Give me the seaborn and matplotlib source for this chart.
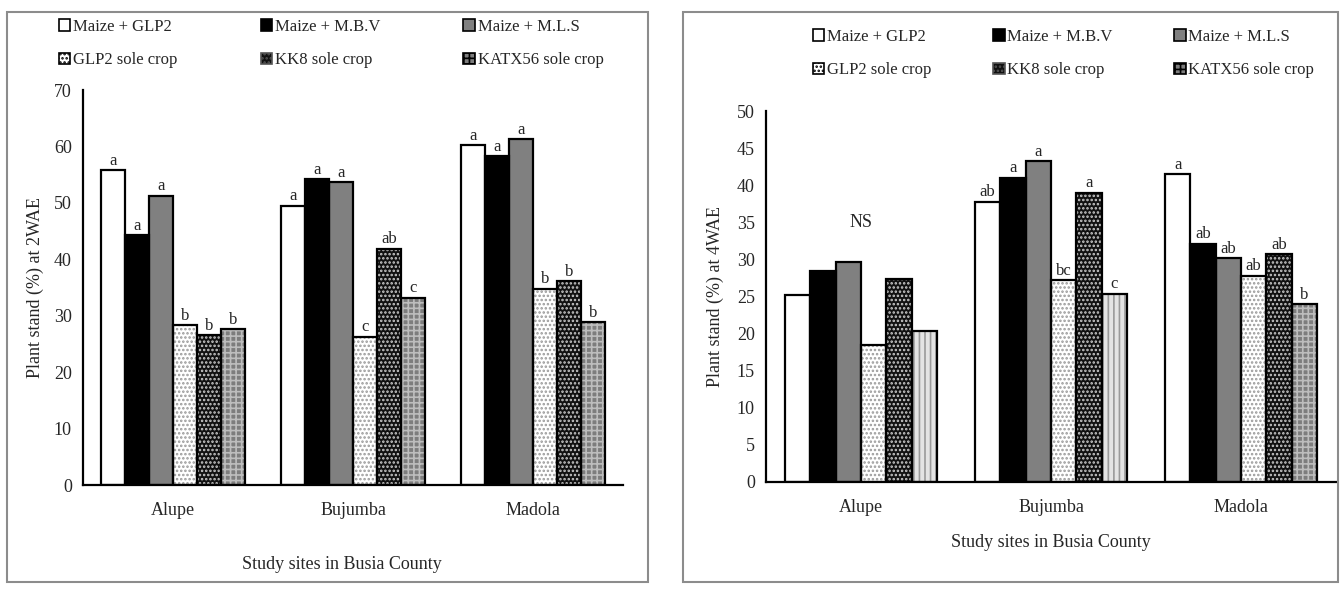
import matplotlib.pyplot as plt
import numpy as np
import pandas as pd
import seaborn as sns
from matplotlib.patches import Patch, Rectangle

sites = ["Alupe", "Bujumba", "Madola"]
treatments = ["Maize + GLP2", "Maize + M.B.V", "Maize + M.L.S",
              "GLP2 sole crop", "KK8 sole crop", "KATX56 sole crop"]

# plant stand (%) at 2WAE, values in treatment order
wae2_alupe = [55.8, 44.3, 51.3, 28.3, 26.5, 27.6]
wae2_bujumba = [49.5, 54.2, 53.7, 26.3, 41.9, 33.2]
wae2_madola = [60.2, 58.3, 61.3, 34.8, 36.1, 28.8]
letters2_alupe = ["a", "a", "a", "b", "b", "b"]
letters2_bujumba = ["a", "a", "a", "c", "ab", "c"]
letters2_madola = ["a", "a", "a", "b", "b", "b"]

# plant stand (%) at 4WAE
wae4_alupe = [25.2, 28.5, 29.7, 18.4, 27.3, 20.3]
wae4_bujumba = [37.8, 41.0, 43.2, 27.2, 39.0, 25.4]
wae4_madola = [41.5, 32.1, 30.2, 27.8, 30.7, 24.0]
letters4_alupe = ["", "", "", "", "", ""]
letters4_bujumba = ["ab", "a", "a", "bc", "a", "c"]
letters4_madola = ["a", "ab", "ab", "ab", "ab", "b"]

# bar styles: face, hatch, hatch colour
styles = [("white", "", "black"),
          ("black", "", "black"),
          ("#808080", "", "#808080"),
          ("white", "....", "#999999"),
          ("#111111", "....", "#cccccc"),
          ("#7d7d7d", "+++", "#bdbdbd")]
light_katx = ("#e4e4e4", "|||", "#9a9a9a")

sns.set_theme(style="white")
plt.rcParams["font.family"] = ["Liberation Serif", "DejaVu Serif"]
plt.rcParams["hatch.linewidth"] = 1.2
TXT = "#262626"


def make_df(vals):
    rows = []
    for site, v in zip(sites, vals):
        for t, y in zip(treatments, v):
            rows.append({"site": site, "treatment": t, "value": y})
    return pd.DataFrame(rows)


def draw(ax, df, letters, ymax, ystep, ylabel, light_sites=()):
    sns.barplot(data=df, x="site", y="value", hue="treatment",
                hue_order=treatments, order=sites, width=0.8, gap=0,
                ax=ax, legend=False, errorbar=None)
    for i, cont in enumerate(ax.containers):
        for j, p in enumerate(cont.patches):
            face, hatch, hcol = styles[i]
            if i == 5 and sites[j] in light_sites:
                face, hatch, hcol = light_katx
            p.set_facecolor(face)
            p.set_hatch(hatch)
            p.set_edgecolor(hcol)
            p.set_linewidth(0)
            ax.add_patch(Rectangle(p.get_xy(), p.get_width(), p.get_height(),
                                   fill=False, edgecolor="black", lw=1.6, zorder=3))
        labs = [letters[j][i] for j in range(len(sites))]
        ax.bar_label(cont, labels=labs, padding=1, fontsize=12, color=TXT)
    ax.set_xlim(-0.5, 2.5)
    ax.set_ylim(0, ymax)
    ax.set_yticks(np.arange(0, ymax + 0.1, ystep))
    ax.set_xticks([-0.5, 0.5, 1.5, 2.5], minor=True)
    ax.tick_params(axis="x", which="major", length=0, pad=12, labelsize=13, labelcolor=TXT)
    ax.tick_params(axis="x", which="minor", length=6, width=1.5, color="black", direction="out")
    ax.tick_params(axis="y", length=6, width=1.5, color="black", direction="out",
                   labelsize=13, labelcolor=TXT, pad=2)
    for s in ["top", "right"]:
        ax.spines[s].set_visible(False)
    for s in ["left", "bottom"]:
        ax.spines[s].set_color("black")
        ax.spines[s].set_linewidth(1.6)
    ax.set_ylabel(ylabel, fontsize=13, color=TXT)
    ax.set_xlabel("Study sites in Busia County", fontsize=13, color=TXT)


fig = plt.figure(figsize=(13.41, 5.90), dpi=100)
W, H = 1341, 590

ax1 = fig.add_axes([83 / W, 1 - 485 / H, 540 / W, 395 / H])
ax2 = fig.add_axes([766 / W, 1 - 482 / H, 570 / W, 371 / H])

draw(ax1, make_df([wae2_alupe, wae2_bujumba, wae2_madola]),
     [letters2_alupe, letters2_bujumba, letters2_madola], 70, 10,
     "Plant stand (%) at 2WAE")
draw(ax2, make_df([wae4_alupe, wae4_bujumba, wae4_madola]),
     [letters4_alupe, letters4_bujumba, letters4_madola], 50, 5,
     "Plant stand (%) at 4WAE", light_sites=("Alupe", "Bujumba"))

ax2.text(0, 35, "NS", ha="center", va="center", fontsize=13, color=TXT)

ax1.yaxis.set_label_coords(-0.072, 0.5)
ax1.xaxis.set_label_coords(0.48, -0.18)
ax2.yaxis.set_label_coords(-0.074, 0.5)
ax2.xaxis.set_label_coords(0.5, -0.14)

# legends
handles = []
for k, (f, h, hc) in enumerate(styles):
    ec = "#555555" if k == 4 else "black"
    handles.append(Patch(facecolor=f, hatch=h, edgecolor=ec, lw=1.2))
order = [0, 3, 1, 4, 2, 5]
for x0, y0, cs in [(52, 12, 5.0), (806, 22, 3.7)]:
    hl = [handles[k] for k in order]
    lb = [treatments[k] for k in order]
    fig.legend(hl, lb, loc="upper left", bbox_to_anchor=(x0 / W, 1 - y0 / H),
               ncol=3, frameon=False, fontsize=12, handlelength=0.7, handleheight=0.7,
               handletextpad=0.15, columnspacing=cs, labelspacing=1.05,
               borderaxespad=0, labelcolor=TXT)

# panel frames
for x0, x1 in [(7, 648), (683, 1338)]:
    fig.add_artist(Rectangle((x0 / W, 1 - 582 / H), (x1 - x0) / W, 570 / H,
                             transform=fig.transFigure, fill=False,
                             edgecolor="#8c8c8c", lw=1.5))

fig.savefig("out.png", dpi=100)
